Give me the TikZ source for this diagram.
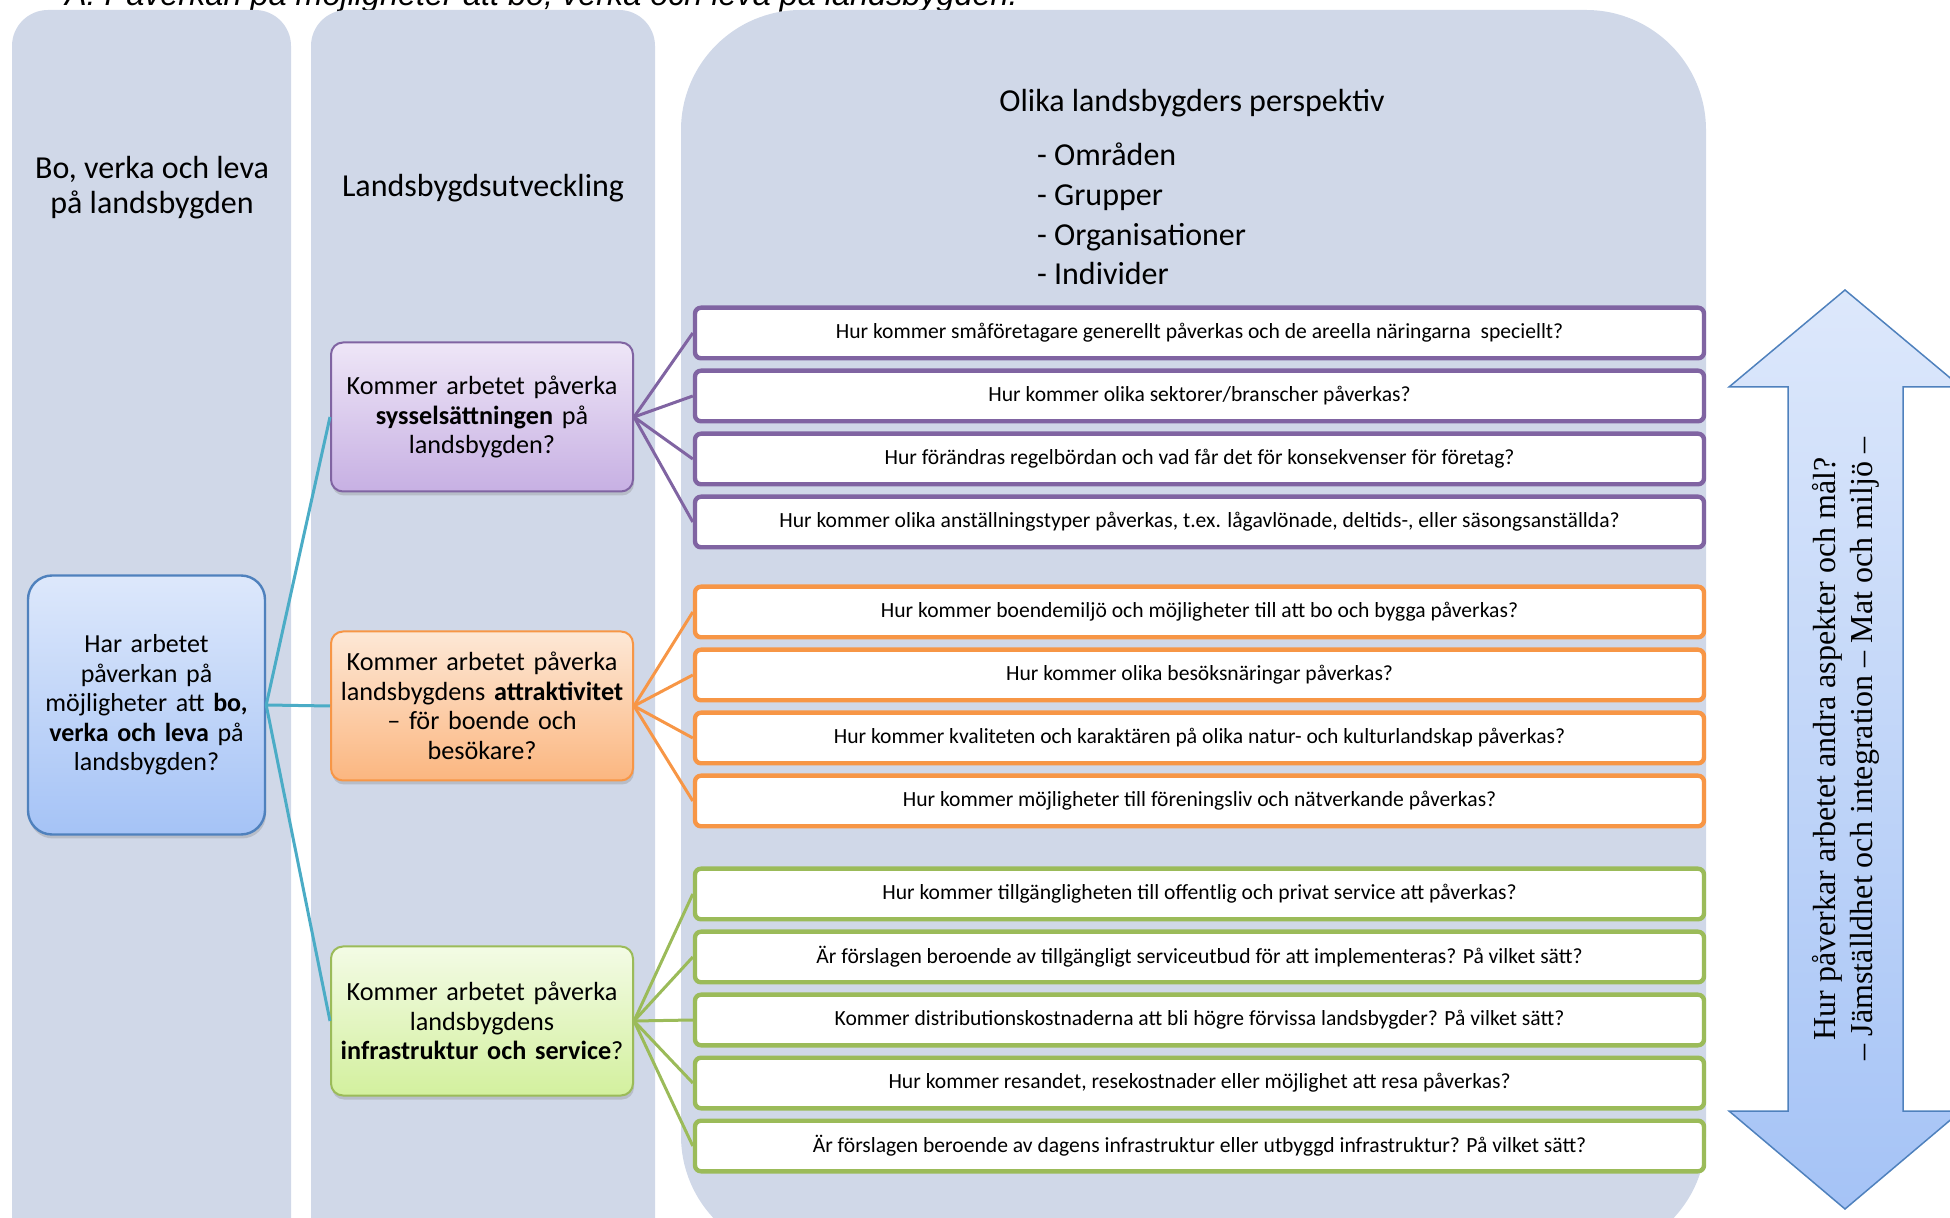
\documentclass[tikz,border=0pt]{standalone}
\usepackage{fontspec}
\setmainfont{Carlito}
\newfontfamily\titlefont{Liberation Sans}
\newfontfamily\arrowfont{Liberation Serif}
\usetikzlibrary{positioning}
\usetikzlibrary{shadows}
\definecolor{colbg}{HTML}{D0D8E8}
\definecolor{linkteal}{HTML}{4BACC6}
\definecolor{grpurple}{HTML}{8064A2}
\definecolor{grorange}{HTML}{F79646}
\definecolor{grgreen}{HTML}{9BBB59}
\definecolor{mainblue}{HTML}{4F81BD}
\definecolor{bluetop}{HTML}{DDE8FB}
\definecolor{bluebot}{HTML}{A5C3F6}
\definecolor{purptop}{HTML}{EEE6F7}
\definecolor{purpbot}{HTML}{C7B0E3}
\definecolor{orantop}{HTML}{FDE8D6}
\definecolor{oranbot}{HTML}{FBB680}
\definecolor{greetop}{HTML}{F3FBE5}
\definecolor{greebot}{HTML}{D3F09E}
\tikzset{
	column/.style={fill=colbg, draw=none},
	header/.style={align=center, font=\fontsize{16}{17.5}\selectfont},
	mainq/.style={draw=mainblue, line width=1.2pt, rounded corners=12pt, top color=bluetop, bottom color=bluebot, minimum width=118.5pt, minimum height=129.5pt, text width=114pt, inner sep=2pt, align=center, font=\fontsize{13}{14.8}\selectfont, drop shadow={opacity=0.3, shadow xshift=0.5pt, shadow yshift=-2pt}},
	topic/.style={line width=1pt, rounded corners=6pt, minimum width=151pt, minimum height=74.5pt, text width=149pt, inner sep=1pt, align=center, font=\fontsize{13.1}{14.8}\selectfont, drop shadow={opacity=0.3, shadow xshift=0.5pt, shadow yshift=-2pt}},
	question/.style={draw, fill=white, line width=2.2pt, rounded corners=3pt, minimum width=504.5pt, minimum height=25.3pt, inner sep=1pt, font=\fontsize{10.8}{12}\selectfont},
	% spokes from a topic to its questions
	spoke/.style={line width=1.5pt},
}

\begin{document}
\begin{tikzpicture}[x=0.5pt, y=-0.5pt]
	\useasboundingbox (0,0) rectangle (1950,1218);
	
	% cut-off caption above the columns
	\node[anchor=base west, font=\titlefont\itshape\fontsize{16.2}{18}\selectfont] (caption) at (58,6) {A: Påverkan på möjligheter att bo, verka och leva på landsbygden.};
	
	\path[column, rounded corners=18pt] (12,10) rectangle (291,1260);
	\path[column, rounded corners=18pt] (311,10) rectangle (655,1260);
	\path[column, rounded corners=60pt] (681,10) rectangle (1706,1256);
	
	\node (hdbo) [header] at (152,188) {Bo, verka och leva\\på landsbygden};
	\node (hdutv) [header] at (483,188) {Landsbygdsutveckling};
	\node (hdpersp) [header] at (1192,103) {Olika landsbygders perspektiv};
	\node (persplist) [header, anchor=west, align=left, font=\fontsize{16}{19.8}\selectfont] at (1030,214) {- Områden\\- Grupper\\- Organisationer\\- Individer};
	
	\node (bolv) [mainq] at (146.5,705) {Har arbetet\\påverkan på\\möjligheter att \textbf{bo,}\\\textbf{verka och leva} på\\landsbygden?};
	
	\node (syss) [topic, draw=grpurple, top color=purptop, bottom color=purpbot] at (482,417) {Kommer arbetet påverka\\\textbf{sysselsättningen} på\\landsbygden?};
	\node (attr) [topic, draw=grorange, top color=orantop, bottom color=oranbot] at (482,706) {Kommer arbetet påverka\\landsbygdens \textbf{attraktivitet}\\– för boende och\\besökare?};
	\node (infra) [topic, draw=grgreen, top color=greetop, bottom color=greebot] at (482,1021) {Kommer arbetet påverka\\landsbygdens\\\textbf{infrastruktur och service}?};
	
	\node (q1) [question, draw=grpurple] at (1199.5,333) {Hur kommer småföretagare generellt påverkas och de areella näringarna\ \ speciellt?};
	\node (q2) [question, draw=grpurple, below=4pt of q1] {Hur kommer olika sektorer/branscher påverkas?};
	\node (q3) [question, draw=grpurple, below=4pt of q2] {Hur förändras regelbördan och vad får det för konsekvenser för företag?};
	\node (q4) [question, draw=grpurple, below=4pt of q3] {Hur kommer olika anställningstyper påverkas, t.ex. lågavlönade, deltids-, eller säsongsanställda?};
	
	\node (q5) [question, draw=grorange] at (1199.5,612) {Hur kommer boendemiljö och möjligheter till att bo och bygga påverkas?};
	\node (q6) [question, draw=grorange, below=4pt of q5] {Hur kommer olika besöksnäringar påverkas?};
	\node (q7) [question, draw=grorange, below=4pt of q6] {Hur kommer kvaliteten och karaktären på olika natur- och kulturlandskap påverkas?};
	\node (q8) [question, draw=grorange, below=4pt of q7] {Hur kommer möjligheter till föreningsliv och nätverkande påverkas?};
	
	\node (q9) [question, draw=grgreen] at (1199.5,894) {Hur kommer tillgängligheten till offentlig och privat service att påverkas?};
	\node (q10) [question, draw=grgreen, below=4pt of q9] {Är förslagen beroende av tillgängligt serviceutbud för att implementeras? På vilket sätt?};
	\node (q11) [question, draw=grgreen, below=4pt of q10] {Kommer distributionskostnaderna att bli högre förvissa landsbygder? På vilket sätt?};
	\node (q12) [question, draw=grgreen, below=4pt of q11] {Hur kommer resandet, resekostnader eller möjlighet att resa påverkas?};
	\node (q13) [question, draw=grgreen, below=4pt of q12] {Är förslagen beroende av dagens infrastruktur eller utbyggd infrastruktur? På vilket sätt?};
	
	\begin{scope}[linkteal, line width=1.5pt]
		\draw (bolv.east) -- (syss.west);
		\draw (bolv.east) -- (attr.west);
		\draw (bolv.east) -- (infra.west);
	\end{scope}
	
	\begin{scope}[spoke, grpurple]
		\draw (syss.east) -- (q1.west);
		\draw (syss.east) -- (q2.west);
		\draw (syss.east) -- (q3.west);
		\draw (syss.east) -- (q4.west);
	\end{scope}
	\begin{scope}[spoke, grorange]
		\draw (attr.east) -- (q5.west);
		\draw (attr.east) -- (q6.west);
		\draw (attr.east) -- (q7.west);
		\draw (attr.east) -- (q8.west);
	\end{scope}
	\begin{scope}[spoke, grgreen]
		\draw (infra.east) -- (q9.west);
		\draw (infra.east) -- (q10.west);
		\draw (infra.east) -- (q11.west);
		\draw (infra.east) -- (q12.west);
		\draw (infra.east) -- (q13.west);
	\end{scope}
	
	% double arrow on the right
	\path[draw=mainblue, line width=0.75pt, top color=bluetop, bottom color=bluebot] (1845,290) -- (1961,387) -- (1903,387) -- (1903,1111) -- (1961,1111) -- (1845,1209) -- (1729,1111) -- (1788,1111) -- (1788,387) -- (1729,387) -- cycle;
	\node (aspekt) [rotate=90, align=center, font=\arrowfont\fontsize{16}{18.7}\selectfont] at (1846,749) {Hur påverkar arbetet andra aspekter och mål?\\– Jämställdhet och integration – Mat och miljö –};
	
\end{tikzpicture}
\end{document}
